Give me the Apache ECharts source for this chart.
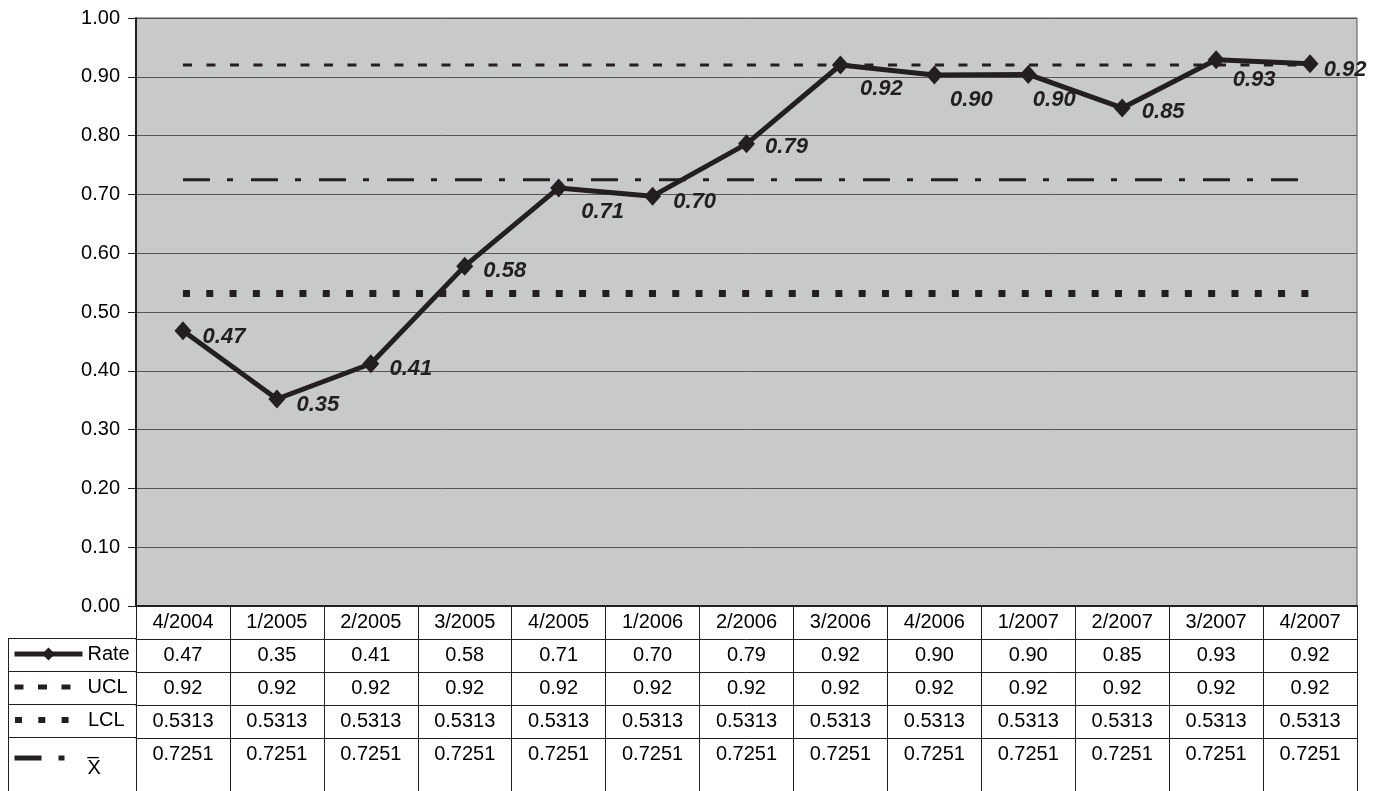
<!DOCTYPE html>
<html>
<head>
<meta charset="utf-8">
<script src="https://cdn.jsdelivr.net/npm/echarts@6/dist/echarts.min.js"></script>
<style>
html, body { margin: 0; padding: 0; background: #fff; }
#chart { width: 1381px; height: 791px; }
</style>
</head>
<body>
<div id="chart"></div>
<script>
// quarters on the x axis
const quarters = ['4/2004', '1/2005', '2/2005', '3/2005', '4/2005', '1/2006', '2/2006',
                  '3/2006', '4/2006', '1/2007', '2/2007', '3/2007', '4/2007'];
const rate = [0.468, 0.352, 0.412, 0.578, 0.711, 0.697, 0.786, 0.920, 0.903, 0.904, 0.847, 0.929, 0.922];
const ucl  = [0.92, 0.92, 0.92, 0.92, 0.92, 0.92, 0.92, 0.92, 0.92, 0.92, 0.92, 0.92, 0.92];
const lcl  = [0.5313, 0.5313, 0.5313, 0.5313, 0.5313, 0.5313, 0.5313, 0.5313, 0.5313, 0.5313, 0.5313, 0.5313, 0.5313];
const xbar = [0.7251, 0.7251, 0.7251, 0.7251, 0.7251, 0.7251, 0.7251, 0.7251, 0.7251, 0.7251, 0.7251, 0.7251, 0.7251];
const seriesNames = ['Rate', 'UCL', 'LCL', 'X̄'];

// label nudges (px from the marker), just layout
const labelNudge = [[41,6],[41,6],[40,5],[40,5],[44,24],[42,6],[40,3],[41,24],[37,25],[26,25],[41,4],[38,20],[35,6]];

const ink = '#231f20';
const font = 'Arial, "Liberation Sans", sans-serif';
const rowH = 33;
const tableTop = 638;

var chart = echarts.init(document.getElementById('chart'));

// one extra x axis per table row, stacked under the plot
const rows = [
    { vals: rate, fmt: v => v.toFixed(2) },
    { vals: ucl,  fmt: v => String(v) },
    { vals: lcl,  fmt: v => String(v) },
    { vals: xbar, fmt: v => String(v) }
];
const tableAxes = rows.map((r, k) => ({
    type: 'category',
    data: quarters,
    gridIndex: 0,
    position: 'bottom',
    offset: rowH * (k + 1),
    axisLine: { show: true, lineStyle: { color: ink, width: 1 } },
    axisTick: { show: true, inside: false, length: k === 3 ? 54 : rowH, lineStyle: { color: ink, width: 1 } },
    axisLabel: {
        margin: 6, color: '#000', fontSize: 20, fontFamily: font, interval: 0,
        formatter: (v, i) => r.fmt(r.vals[i])
    }
}));

// one legend per table row so each key sits in its own cell
const legendWidths = [5, 5, 6, 5];
const legends = seriesNames.map((name, k) => ({
    orient: 'vertical',
    left: 12,
    top: k === 3 ? tableTop + rowH * 3 + 1 : tableTop + rowH * k + 6,
    padding: 0,
    itemWidth: 68, itemHeight: 16,
    selectedMode: false,
    textStyle: { fontSize: 20, lineHeight: 20, color: '#000', fontFamily: font },
    formatter: n => n === 'X̄' ? '_\nX' : n,
    data: [{
        name: name,
        lineStyle: { width: legendWidths[k] },
        itemStyle: k === 0 ? {} : { opacity: 0, borderWidth: 0 }
    }]
}));

let option = {
    animation: false,
    grid: {
        left: 136, right: 24, top: 18, bottom: 185,
        show: true, backgroundColor: '#c8c9cb', borderColor: '#555', borderWidth: 1,
        outerBoundsMode: 'none'
    },
    legend: legends,
    xAxis: [{
        type: 'category',
        data: quarters,
        position: 'bottom',
        axisLine: { show: true, lineStyle: { color: ink, width: 2 } },
        axisTick: { show: true, length: rowH, lineStyle: { color: ink, width: 1 } },
        axisLabel: { margin: 6, color: '#000', fontSize: 20, fontFamily: font, interval: 0 }
    }].concat(tableAxes),
    yAxis: {
        type: 'value',
        min: 0, max: 1, interval: 0.1,
        axisLine: { show: true, lineStyle: { color: ink, width: 2 } },
        axisTick: { show: true, length: 8, lineStyle: { color: ink } },
        axisLabel: { margin: 16, color: '#000', fontSize: 20, fontFamily: font, formatter: v => v.toFixed(2) },
        splitLine: { show: true, lineStyle: { color: '#555', width: 1 } }
    },
    graphic: [
        { type: 'line', shape: { x1: 8, y1: 638.5, x2: 136, y2: 638.5 }, style: { stroke: ink, lineWidth: 1 } },
        { type: 'line', shape: { x1: 8, y1: 671.5, x2: 136, y2: 671.5 }, style: { stroke: ink, lineWidth: 1 } },
        { type: 'line', shape: { x1: 8, y1: 704.5, x2: 136, y2: 704.5 }, style: { stroke: ink, lineWidth: 1 } },
        { type: 'line', shape: { x1: 8, y1: 737.5, x2: 136, y2: 737.5 }, style: { stroke: ink, lineWidth: 1 } },
        { type: 'line', shape: { x1: 8.5, y1: 638, x2: 8.5, y2: 791 }, style: { stroke: ink, lineWidth: 1 } }
    ],
    series: [
        {
            name: 'Rate', type: 'line', data: rate, z: 5,
            symbol: 'diamond', symbolSize: [17, 19],
            itemStyle: { color: ink },
            lineStyle: { color: ink, width: 5 },
            label: {
                show: true, position: 'inside',
                formatter: p => p.value.toFixed(2),
                fontSize: 22, fontWeight: 'bold', fontStyle: 'italic', fontFamily: font, color: ink
            },
            labelLayout: p => ({ dx: labelNudge[p.dataIndex][0], dy: labelNudge[p.dataIndex][1] })
        },
        {
            name: 'UCL', type: 'line', data: ucl, symbol: 'none', z: 3,
            itemStyle: { color: ink },
            lineStyle: { color: ink, width: 3, type: [9, 14.5] }
        },
        {
            name: 'LCL', type: 'line', data: lcl, symbol: 'none', z: 3,
            itemStyle: { color: ink },
            lineStyle: { color: ink, width: 7, type: [7, 16.3] }
        },
        {
            name: 'X̄', type: 'line', data: xbar, symbol: 'none', z: 3,
            itemStyle: { color: ink },
            lineStyle: { color: ink, width: 3, type: [27, 17, 6, 18] }
        }
    ]
};

chart.setOption(option);
</script>
</body>
</html>
